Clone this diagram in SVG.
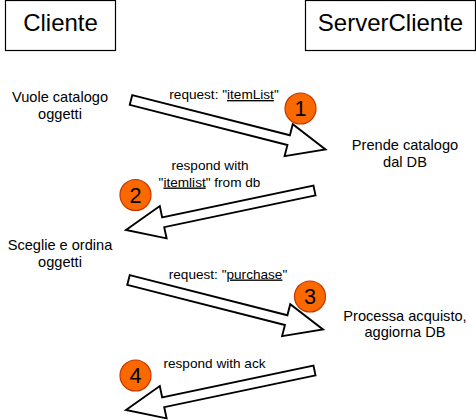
<svg xmlns="http://www.w3.org/2000/svg" width="476" height="420" viewBox="0 0 476 420">
<style>
  .box { fill: #ffffff; stroke: #000000; stroke-width: 1.2; }
  .arrow { fill: #ffffff; stroke: #000000; stroke-width: 1.9; stroke-linejoin: miter; }
  .badge { fill: #fa6800; stroke: #c73500; stroke-width: 1.2; }
  text { font-family: "Liberation Sans", Arial, Helvetica, sans-serif; fill: #000000; text-anchor: middle; }
  .title { font-size: 24px; }
  .node { font-size: 14.6px; }
  .lbl { font-size: 13.6px; }
  .num { font-size: 21.6px; }
  .u { text-decoration: underline; }
</style>
<rect width="476" height="420" fill="#ffffff"/>

<g id="cliente">
  <rect class="box" x="5.5" y="0.5" width="110" height="50"/>
  <text class="title" x="60.5" y="30.5">Cliente</text>
</g>
<g id="servercliente">
  <rect class="box" x="305.5" y="0.5" width="170" height="50"/>
  <text class="title" x="390.5" y="30.5">ServerCliente</text>
</g>

<g id="step-vuole">
  <text class="node" x="60" y="102">Vuole catalogo</text>
  <text class="node" x="60" y="119">oggetti</text>
</g>
<g id="step-prende">
  <text class="node" x="405" y="150">Prende catalogo</text>
  <text class="node" x="405" y="167">dal DB</text>
</g>
<g id="step-sceglie">
  <text class="node" x="60" y="250">Sceglie e ordina</text>
  <text class="node" x="60" y="267">oggetti</text>
</g>
<g id="step-processa">
  <text class="node" x="405" y="321">Processa acquisto,</text>
  <text class="node" x="405" y="337">aggiorna DB</text>
</g>

<g id="connectors">
  <g id="arrow1">
    <path class="arrow" transform="translate(131,100) rotate(14.28)" d="M0,-5 H162.7 V-16.5 L200.7,0 L162.7,16.5 V5 H0 Z"/>
    <text class="lbl" x="224" y="99">request: "<tspan class="u">itemList</tspan>"</text>
  </g>
  <g id="arrow2">
    <path class="arrow" transform="translate(314.5,190.5) rotate(168.16)" d="M0,-5 H154.6 V-16.5 L192.6,0 L154.6,16.5 V5 H0 Z"/>
    <text class="lbl" x="210" y="170">respond with</text>
    <text class="lbl" x="209.5" y="186.5">"<tspan class="u">itemlist</tspan>" from db</text>
  </g>
  <g id="arrow3">
    <path class="arrow" transform="translate(128.5,280) rotate(14.28)" d="M0,-5 H162.7 V-16.5 L200.7,0 L162.7,16.5 V5 H0 Z"/>
    <text class="lbl" x="228" y="278.5">request: "<tspan class="u">purchase</tspan>"</text>
  </g>
  <g id="arrow4">
    <path class="arrow" transform="translate(314.5,370.5) rotate(168.16)" d="M0,-5 H154.6 V-16.5 L192.6,0 L154.6,16.5 V5 H0 Z"/>
    <text class="lbl" x="214.5" y="368">respond with ack</text>
  </g>
</g>

<g id="badge1">
  <circle class="badge" cx="300.5" cy="108.5" r="15.5"/>
  <text class="num" x="300.5" y="116.3">1</text>
</g>
<g id="badge2">
  <circle class="badge" cx="135.5" cy="195" r="15.5"/>
  <text class="num" x="135.5" y="202.8">2</text>
</g>
<g id="badge3">
  <circle class="badge" cx="310" cy="296.5" r="15.5"/>
  <text class="num" x="310" y="304.3">3</text>
</g>
<g id="badge4">
  <circle class="badge" cx="135.5" cy="375.5" r="15.5"/>
  <text class="num" x="135.5" y="383.3">4</text>
</g>
</svg>
